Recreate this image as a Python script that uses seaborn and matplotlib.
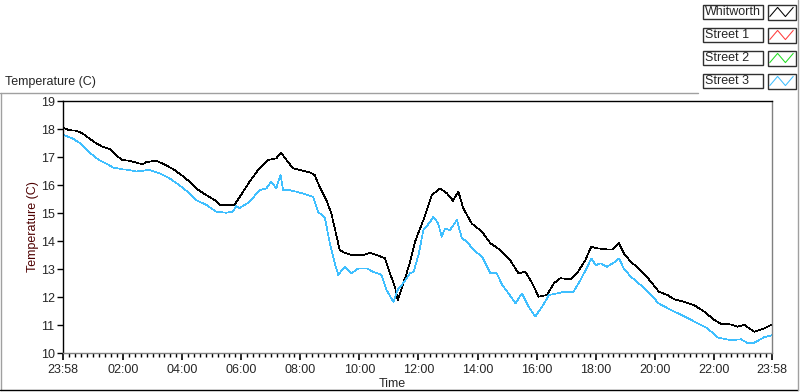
import numpy as np
import pandas as pd
import matplotlib
matplotlib.use("Agg")
import matplotlib.pyplot as plt
import matplotlib.dates as mdates
from matplotlib.lines import Line2D
from matplotlib.patches import Rectangle
import seaborn as sns

# ── data: minutes after the 23:58 start, temperature in C ──────
whit_min = [0, 12, 26, 39, 53, 67, 80, 97, 107, 121,
            134, 148, 162, 168, 189, 209, 226, 243, 257, 270,
            291, 308, 318, 348, 358, 379, 399, 416, 433, 443,
            454, 467, 487, 501, 511, 521, 535, 545, 552, 562,
            572, 586, 610, 623, 637, 654, 664, 674, 680, 691,
            698, 705, 715, 732, 749, 766, 780, 792, 803, 813,
            830, 851, 868, 888, 908, 925, 939, 953, 966, 983,
            997, 1010, 1031, 1044, 1061, 1073, 1085, 1105, 1116, 1129,
            1139, 1153, 1173, 1194, 1210, 1228, 1241, 1261, 1282, 1302,
            1323, 1336, 1356, 1370, 1384, 1404, 1424, 1440]
whit_temp = [18.05, 17.96, 17.94, 17.85, 17.67, 17.49, 17.37, 17.27, 17.07, 16.89,
             16.87, 16.80, 16.74, 16.81, 16.87, 16.71, 16.54, 16.32, 16.12, 15.88,
             15.64, 15.46, 15.29, 15.29, 15.55, 16.12, 16.60, 16.89, 16.95, 17.15,
             16.89, 16.60, 16.51, 16.45, 16.36, 15.94, 15.46, 14.99, 14.45, 13.68,
             13.58, 13.50, 13.50, 13.58, 13.50, 13.38, 12.85, 12.37, 11.89, 12.49,
             12.85, 13.26, 13.98, 14.75, 15.64, 15.88, 15.70, 15.44, 15.76, 15.17,
             14.63, 14.33, 13.92, 13.68, 13.32, 12.85, 12.90, 12.49, 12.01, 12.07,
             12.49, 12.67, 12.63, 12.85, 13.32, 13.80, 13.74, 13.70, 13.70, 13.92,
             13.56, 13.26, 12.96, 12.55, 12.19, 12.07, 11.92, 11.83, 11.71, 11.48,
             11.18, 11.04, 11.02, 10.94, 11.00, 10.76, 10.88, 11.02]

st3_min = [0, 19, 33, 46, 60, 73, 94, 100, 121, 134,
           148, 175, 196, 216, 236, 257, 270, 291, 311, 331,
           345, 352, 358, 379, 399, 413, 423, 433, 442, 447,
           460, 474, 487, 508, 518, 532, 542, 552, 559, 572,
           586, 600, 617, 630, 647, 657, 671, 681, 691, 705,
           712, 722, 732, 746, 752, 762, 769, 776, 786, 800,
           810, 820, 834, 851, 868, 881, 892, 905, 919, 932,
           946, 959, 973, 987, 1004, 1017, 1037, 1051, 1065, 1073,
           1082, 1092, 1105, 1119, 1129, 1139, 1153, 1173, 1194, 1210,
           1234, 1261, 1289, 1309, 1330, 1356, 1377, 1391, 1404, 1424,
           1440]
st3_temp = [17.79, 17.67, 17.51, 17.31, 17.07, 16.89, 16.71, 16.63, 16.56, 16.54,
            16.48, 16.54, 16.42, 16.24, 16.00, 15.70, 15.46, 15.29, 15.05, 15.01,
            15.05, 15.25, 15.17, 15.40, 15.82, 15.88, 16.12, 15.88, 16.36, 15.82,
            15.82, 15.76, 15.70, 15.58, 15.05, 14.81, 13.92, 13.20, 12.79, 13.08,
            12.85, 13.02, 13.02, 12.90, 12.79, 12.25, 11.83, 12.31, 12.49, 12.85,
            12.90, 13.50, 14.39, 14.69, 14.87, 14.63, 14.15, 14.45, 14.39, 14.75,
            14.10, 13.98, 13.68, 13.44, 12.85, 12.85, 12.43, 12.13, 11.77, 12.13,
            11.65, 11.30, 11.65, 12.07, 12.13, 12.19, 12.19, 12.61, 13.08, 13.38,
            13.14, 13.20, 13.08, 13.23, 13.38, 13.02, 12.73, 12.43, 12.07, 11.77,
            11.54, 11.32, 11.06, 10.88, 10.55, 10.46, 10.49, 10.35, 10.37, 10.56,
            10.64]

series_names = ["Whitworth", "Street 1", "Street 2", "Street 3"]
series_colors = ["#000000", "#FF3C3C", "#22DD22", "#3FBFFF"]
y_ticks = list(range(10, 20))
start = pd.Timestamp("2000-01-01 23:58")
end = start + pd.Timedelta(hours=24)

df = pd.concat([
    pd.DataFrame({"Time": start + pd.to_timedelta(whit_min, unit="m"),
                  "Temp": whit_temp, "Series": "Whitworth"}),
    pd.DataFrame({"Time": start + pd.to_timedelta(st3_min, unit="m"),
                  "Temp": st3_temp, "Series": "Street 3"}),
], ignore_index=True)

sns.set_style("white")
plt.rcParams['font.family'] = ['Liberation Sans', 'DejaVu Sans']

W, H = 800, 392
fig = plt.figure(figsize=(W / 100, H / 100), dpi=100)
fx = lambda px: px / W
fy = lambda py: 1 - py / H

ax = fig.add_axes([fx(63), fy(353), fx(772) - fx(63), fy(101) - fy(353)])
palette = dict(zip(series_names, series_colors))
sns.lineplot(data=df, x="Time", y="Temp", hue="Series", palette=palette,
             estimator=None, sort=True, legend=False, ax=ax,
             linewidth=0.5, antialiased=False)

ax.set_xlim(start, end)
ax.set_ylim(10, 19)
ax.set_yticks(y_ticks)
ax.set_xlabel("")
ax.set_ylabel("")

# x ticks: start, every even hour, end
majors = [start] + [pd.Timestamp("2000-01-02") + pd.Timedelta(hours=h) for h in range(2, 24, 2)] + [end]
major_num = mdates.date2num(majors)
ax.set_xticks(major_num)
ax.xaxis.set_major_formatter(mdates.DateFormatter("%H:%M"))
minors = []
for a, b in zip(major_num[:-1], major_num[1:]):
    minors.extend(np.linspace(a, b, 11)[1:-1])
ax.set_xticks(minors, minor=True)

ax.tick_params(axis='x', which='major', length=5, width=1.2, color='black',
               labelsize=9, pad=3, bottom=True)
ax.tick_params(axis='x', which='minor', length=3, width=1, color='black', bottom=True)
ax.tick_params(axis='y', which='major', length=4, width=1, color='black',
               labelsize=9, pad=2, left=True)

for side, col in [("left", "black"), ("top", "black"), ("right", "#808080"), ("bottom", "#808080")]:
    ax.spines[side].set_visible(True)
    ax.spines[side].set_color(col)
    ax.spines[side].set_linewidth(1)

# labels
fig.text(fx(5), fy(82), "Temperature (C)", fontsize=9, va='center', ha='left')
fig.text(fx(33), fy(227), "Temperature (C)", fontsize=9, rotation=90,
         va='center', ha='center', color='#4d0000')
fig.text(fx(392), fy(384), "Time", fontsize=9, va='center', ha='center')

# panel frame
gray = '#a0a0a0'
fig.add_artist(Line2D([fx(0), fx(698)], [fy(92.5), fy(92.5)], color=gray, lw=1))
fig.add_artist(Line2D([fx(0.5), fx(0.5)], [fy(92.5), fy(390)], color=gray, lw=1))
fig.add_artist(Line2D([fx(0), fx(798)], [fy(390), fy(390)], color='black', lw=1))
fig.add_artist(Line2D([fx(797.5), fx(797.5)], [fy(0), fy(390)], color=gray, lw=1))

# legend: name boxes with little plot icons
for i, (name, col) in enumerate(zip(series_names, series_colors)):
    top = 4.5 + i * 23
    fig.add_artist(Rectangle((fx(702.5), fy(top + 14)), fx(60), fy(top) - fy(top + 14),
                             facecolor='white', edgecolor='#303030', lw=1))
    fig.text(fx(705), fy(top + 7.5), name, fontsize=9, va='center', ha='left')
    fig.add_artist(Rectangle((fx(767.5), fy(top + 15)), fx(28), fy(top) - fy(top + 15),
                             facecolor='white', edgecolor='#303030', lw=1))
    icon = fig.add_axes([fx(769), fy(top + 13), fx(25), fy(top + 2) - fy(top + 13)])
    icon.set_zorder(5)
    icon.patch.set_visible(False)
    icon.plot([0, 1, 2, 3], [0, 1, 0, 1], color=col, lw=0.75)
    icon.set_xlim(-0.1, 3.1)
    icon.set_ylim(-0.1, 1.1)
    icon.axis('off')

fig.savefig("out.png", dpi=100)
